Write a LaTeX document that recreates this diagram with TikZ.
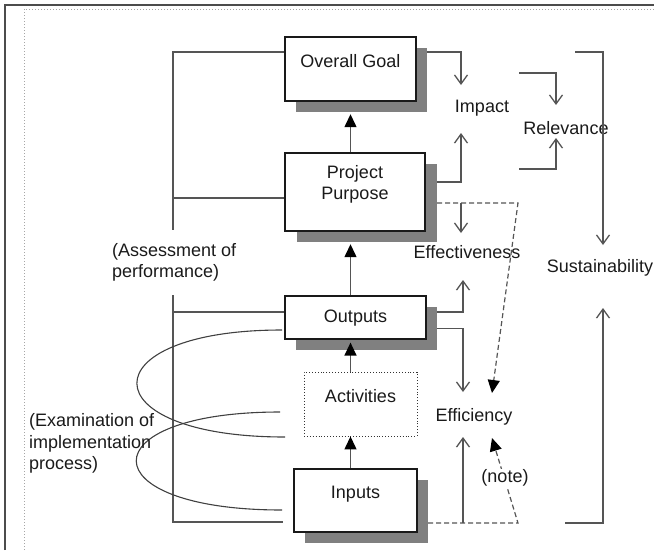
\documentclass[tikz,border=0pt]{standalone}
\usepackage{fontspec}
\setmainfont{Liberation Sans}
\usetikzlibrary{arrows.meta,calc}
\definecolor{ln}{HTML}{555555}
\definecolor{shadowgray}{HTML}{808080}
\definecolor{txtc}{HTML}{1A1A1A}
\begin{document}
\begin{tikzpicture}[x=1pt,y=-1pt,
  font=\fontsize{18}{21.5}\selectfont,
  txt/.style={text=txtc, inner sep=0pt},
  box/.style={draw=black!90, line width=1.2pt, fill=white, inner sep=0pt, text=txtc},
  shad/.style={fill=shadowgray, draw=none, inner sep=0pt},
  upper/.style={text height=13pt, text depth=16pt},
  conn/.style={draw=ln, line width=1.3pt},
  oarr/.style={conn, -{Straight Barb[length=9pt,width=13pt]}},
  farr/.style={draw=ln, line width=1.3pt, -{Triangle[length=13pt,width=12pt,color=black]}},
  dashline/.style={draw=ln, line width=1.2pt, dash pattern=on 5pt off 3pt, -{Triangle[length=13pt,width=12pt,color=black]}},
  loop/.style={draw=black!75, line width=1.1pt}
]
\useasboundingbox (0,0) rectangle (654,550);
% frame
\draw[line width=1.5pt, black!70] (5,550) -- (5,5) -- (654,5);
\draw[line width=1pt, black!35, dotted] (24,550) -- (24,9) -- (654,9);

% shadows
\node[shad, minimum width=131pt, minimum height=64pt] (ogs) at (361.5,80) {};
\node[shad, minimum width=140pt, minimum height=78pt] (pps) at (367,203) {};
\node[shad, minimum width=141pt, minimum height=43pt] (outs) at (366.5,328.5) {};
\node[shad, minimum width=123pt, minimum height=63pt] (ins) at (366.5,511.5) {};

% boxes
\node[box, upper, minimum width=131pt, minimum height=64pt] (og) at (350.5,69) {Overall Goal};
\node[box, align=center, text height=34.5pt, text depth=19.5pt, minimum width=140pt, minimum height=78pt] (pp) at (355,192) {Project\\Purpose};
\node[box, text height=13pt, text depth=4pt, minimum width=141pt, minimum height=43pt] (out) at (355.5,317.5) {Outputs};
\node[box, upper, draw=black!80, line width=0.9pt, dotted, minimum width=113pt, minimum height=64pt] (act) at (360.5,404) {Activities};
\node[box, text height=13pt, text depth=17pt, minimum width=123pt, minimum height=63pt] (in) at (355.5,500.5) {Inputs};

% vertical chain
\draw[farr, shorten >=2pt] (pp.north -| og.south) -- (ogs.south -| og.south);
\draw[farr, shorten >=2pt] (out.north -| og.south) -- (pps.south -| og.south);
\draw[farr] (act.north -| og.south) -- ([yshift=-3pt]out.south -| og.south);
\draw[farr] (in.north -| og.south) -- (act.south -| og.south);

% left brackets
\coordinate (la) at (173,52);
\coordinate (lb) at (173,230);
\coordinate (lp) at (173,198);
\coordinate (lc) at (173,295);
\coordinate (lo) at (173,312);
\coordinate (ld) at (173,522);
\coordinate (le) at (283,522);
\draw[conn] (la -| og.west) -- (la) -- (lb);
\draw[conn] (lp) -- (lp -| pp.west);
\draw[conn] (lc) -- (ld) -- (le);
\draw[conn] (lo) -- (lo -| out.west);

% loops
\coordinate (c1a) at (282,330);
\coordinate (c1b) at (285,437);
\coordinate (c2a) at (280,412);
\coordinate (c2b) at (282,510);
\draw[loop] (c1a) .. controls (88,330) and (88,437) .. (c1b);
\draw[loop] (c2a) .. controls (88,412) and (88,510) .. (c2b);

% criteria labels
\node[txt] (imp) at (482,108) {Impact};
\node[txt] (rel) at (566,128) {Relevance};
\node[txt] (eff) at (467,252) {Effectiveness};
\node[txt] (sus) at (600,268) {Sustainability};
\node[txt] (effi) at (474,417) {Efficiency};
\node[txt, align=left, anchor=west] (asm) at (112,262.5) {(Assessment of\\performance)};
\node[txt, align=left, anchor=west] (exa) at (29,443.5) {(Examination of\\implementation\\process)};

% arrow end points
\coordinate (impT) at (461,85);
\coordinate (impB) at (461,133);
\coordinate (relTa) at (519,73);
\coordinate (relT) at (556,105);
\coordinate (relBa) at (519,169);
\coordinate (relB) at (556,138);
\coordinate (susTa) at (575,52);
\coordinate (susT) at (603,245);
\coordinate (susBa) at (565,523);
\coordinate (susB) at (603,308);
\coordinate (effT) at (461,233);
\coordinate (dA) at (518,203);
\coordinate (effiT) at (492,393);
\coordinate (effiB) at (492,438);
\coordinate (dB) at (518,523);
\coordinate (outUp) at (463,280);
\coordinate (effiDn) at (463,392);
\coordinate (effiUp) at (463,437);

% connectors on the right
\draw[oarr] (la -| ogs.east) -| (impT);
\draw[oarr] ([yshift=21pt]pps.east) -| (impB);
\draw[oarr] (relTa) -| (relT);
\draw[oarr] (relBa) -| (relB);
\draw[oarr] (susTa) -| (susT);
\draw[oarr] (susBa) -| (susB);
\draw[dashline] (pps.east) -- (dA) -- (effiT);
\draw[oarr] (pps.east -| effT) -- (effT);
\draw[oarr] ([yshift=16.5pt]outs.east) -| (outUp);
\draw[oarr] (outs.east) -| (effiDn);
\draw[dashline] ([yshift=-11.5pt]ins.east) -- (dB) -- (effiB);
\draw[oarr] (effiUp |- dB) -- (effiUp);
\node[txt, fill=white, inner sep=1pt] (note) at (505,478) {(note)};
\end{tikzpicture}
\end{document}
